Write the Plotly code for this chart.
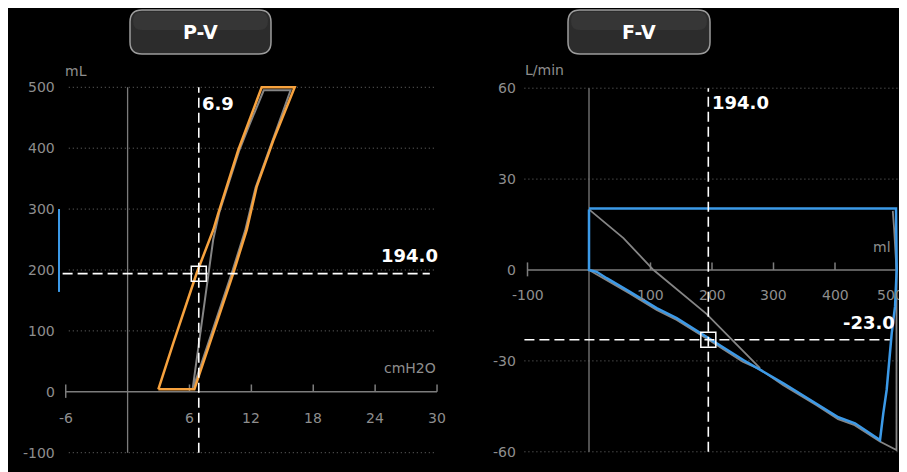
import plotly.graph_objects as go

# page is 907x472; the page body has an 8px margin, so the figure is 899x464
W, H = 899, 464
OFF = 8

# ---------------- data ----------------
# P-V loop (pressure cmH2O, volume mL)
pv_pressure = [2.98, 4.43, 6.7, 8.31, 8.79, 10.73, 11.7, 13.0, 16.2, 14.13, 12.52, 11.55, 10.25, 6.47, 2.98]
pv_volume = [4, 80, 195, 266, 293, 397, 441, 500, 500, 413, 337, 266, 195, 4, 4]
pv_ref_pressure = [6.3, 7.2, 8.3, 8.9, 10.8, 11.8, 13.2, 15.8, 14.0, 12.4, 11.4, 10.1, 6.4]
pv_ref_volume = [4, 118, 250, 295, 395, 438, 495, 495, 410, 335, 265, 195, 8]
pv_bar_volume = [300, 164]
pv_cursor_pressure = 6.9
pv_cursor_volume = 194.0

# F-V loop (volume mL, flow L/min)
fv_volume = [0, 0, 12.5, 28.8, 66.7, 110, 142.6, 191.4, 250.9, 316, 370, 405.4, 432.5, 473.2,
             478.5, 484, 492.2, 497.6, 500.3, 499.2, 0]
fv_flow = [20, 0, -0.6, -2.7, -7.2, -12.6, -15.9, -22, -29.7, -37.4, -44, -48.6, -50.6, -56.1,
           -47.3, -39.6, -20.9, -12.1, 0, 20.3, 20.3]
fv_ref_volume = [0, 56, 105, 191, 278, None,
                 0, 28.8, 66.7, 110, 142.6, 191, 250, 278, 316, 370, 405, 432, 473, 500, 500, 496, 494]
fv_ref_flow = [20, 10.5, 0, -14.5, -32.4, None,
               0, -3.3, -7.8, -13.2, -16.5, -22.6, -30.3, -32.8, -38, -44.6, -49.2, -51.2, -56.6, -59.4, 0, 14, 19.5]
fv_cursor_volume = 194.0
fv_cursor_flow = -23.0

# ticks
pv_xticks = [-6, 6, 12, 18, 24, 30]
pv_xticklabels = ["-6", "6", "12", "18", "24", "30"]
pv_yticks = [500, 400, 300, 200, 100, 0, -100]
pv_yticklabels = ["500", "400", "300", "200", "100", "0", "-100"]
pv_grid = [500, 400, 300, 200, 100, -100]

fv_xticks = [-100, 100, 200, 300, 400, 500]
fv_xticklabels = ["-100", "100", "200", "300", "400", "500"]
fv_yticks = [60, 30, 0, -30, -60]
fv_yticklabels = ["60", "30", "0", "-30", "-60"]
fv_grid = [60, 30, -30, -60]

# ---------------- styles ----------------
GRID = "#6e6e6e"
AXIS = "#7c7c7c"
TICKTXT = "#8e8e8e"
ORANGE = "#f7a23e"
BLUE = "#3c9ae8"
REFGREY = "#858585"
FONT = "DejaVu Sans"

fig = go.Figure()


def seg_trace(xs, ys, color, width, dash="solid", xa="x", ya="y"):
    fig.add_trace(go.Scatter(x=xs, y=ys, mode="lines", xaxis=xa, yaxis=ya,
                             line=dict(color=color, width=width, dash=dash),
                             hoverinfo="skip", showlegend=False))


def hlines(ys, x0, x1):
    xs, yy = [], []
    for v in ys:
        xs += [x0, x1, None]
        yy += [v, v, None]
    return xs, yy


# ---------- left panel (P-V) ----------
gx, gy = hlines(pv_grid, -5.7, 29.8)
seg_trace(gx, gy, GRID, 1, "1px,3px")
seg_trace([-6, 30], [0, 0], AXIS, 1.5)
seg_trace([0, 0], [-100, 500], AXIS, 1.3)
tx, ty = [], []
for i, v in enumerate(pv_xticks):
    lo = -10 if i == 0 else 0
    tx += [v, v, None]
    ty += [lo, 12, None]
seg_trace(tx, ty, AXIS, 1.5)
seg_trace([-6.65, -6.65], pv_bar_volume, BLUE, 2)
seg_trace(pv_ref_pressure, pv_ref_volume, REFGREY, 2)
seg_trace(pv_pressure, pv_volume, ORANGE, 2.5)
seg_trace([pv_cursor_pressure, pv_cursor_pressure], [-100, 500], "white", 1.6, "10px,5px")
seg_trace([-6.3, 29.3], [pv_cursor_volume, pv_cursor_volume], "white", 1.6, "10px,5px")
fig.add_trace(go.Scatter(x=[pv_cursor_pressure], y=[pv_cursor_volume], mode="markers",
                         marker=dict(symbol="square-open", size=15, color="white",
                                     line=dict(width=1.5, color="white")),
                         hoverinfo="skip", showlegend=False, xaxis="x", yaxis="y"))

# ---------- right panel (F-V) ----------
gx, gy = hlines(fv_grid, -105, 505)
seg_trace(gx, gy, GRID, 1, "1px,3px", "x2", "y2")
seg_trace([-100, 500], [0, 0], AXIS, 1.5, "solid", "x2", "y2")
seg_trace([0, 0], [-60, 60], AXIS, 1.3, "solid", "x2", "y2")
tx, ty = [], []
for i, v in enumerate(fv_xticks):
    lo = -2.1 if i == 0 else 0
    tx += [v, v, None]
    ty += [lo, 2.5, None]
seg_trace(tx, ty, AXIS, 1.5, "solid", "x2", "y2")
seg_trace(fv_ref_volume, fv_ref_flow, REFGREY, 1.8, "solid", "x2", "y2")
seg_trace(fv_volume, fv_flow, BLUE, 2.5, "solid", "x2", "y2")
seg_trace([fv_cursor_volume, fv_cursor_volume], [-60, 60], "white", 1.6, "10px,5px", "x2", "y2")
seg_trace([-105, 489], [fv_cursor_flow, fv_cursor_flow], "white", 1.6, "10px,5px", "x2", "y2")
fig.add_trace(go.Scatter(x=[fv_cursor_volume], y=[fv_cursor_flow], mode="markers",
                         marker=dict(symbol="square-open", size=15, color="white",
                                     line=dict(width=1.5, color="white")),
                         hoverinfo="skip", showlegend=False, xaxis="x2", yaxis="y2"))

# ---------- annotations ----------
ann = []


def label(text, x, y, xref, yref, xanchor="center", size=14, color=TICKTXT, bold=False):
    ann.append(dict(text=("<b>%s</b>" % text) if bold else text, x=x, y=y, xref=xref, yref=yref,
                    xanchor=xanchor, yanchor="middle", showarrow=False,
                    font=dict(family=FONT, size=size, color=color)))


for v, t in zip(pv_yticks, pv_yticklabels):
    label(t, -6.85, v, "x", "y", "right")
for v, t in zip(pv_xticks, pv_xticklabels):
    label(t, v, -43, "x", "y")
for v, t in zip(fv_yticks, fv_yticklabels):
    label(t, -115.4, v, "x2", "y2", "right")
for v, t in zip(fv_xticks, fv_xticklabels):
    label(t, min(v, 490), -8.25, "x2", "y2")

label("mL", -5.0, 527, "x", "y")
label("cmH2O", 30.1, 39, "x", "y", "right")
label("L/min", -73, 66, "x2", "y2")
label("ml", 494, 7.6, "x2", "y2", "right")

label("%.1f" % pv_cursor_pressure, 7.0, 474, "x", "y", "left", 18, "white", True)
label("%.1f" % pv_cursor_volume, 30.3, 224, "x", "y", "right", 18, "white", True)
label("%.1f" % fv_cursor_volume, 197, 55.4, "x2", "y2", "left", 18, "white", True)
label("%.1f" % fv_cursor_flow, 500.5, -17.2, "x2", "y2", "right", 18, "white", True)


# ---------- buttons ----------
def px(x):
    return (x - OFF) / W


def py(y):
    return 1 - (y - OFF) / H


def rrect(x0, y0, x1, y1, r):
    return ("M %f,%f L %f,%f Q %f,%f %f,%f L %f,%f Q %f,%f %f,%f L %f,%f Q %f,%f %f,%f "
            "L %f,%f Q %f,%f %f,%f Z") % (
        px(x0 + r), py(y0), px(x1 - r), py(y0), px(x1), py(y0), px(x1), py(y0 + r),
        px(x1), py(y1 - r), px(x1), py(y1), px(x1 - r), py(y1),
        px(x0 + r), py(y1), px(x0), py(y1), px(x0), py(y1 - r),
        px(x0), py(y0 + r), px(x0), py(y0), px(x0 + r), py(y0))


shapes = []
for (bx0, bx1, txt) in [(130, 271, "P-V"), (568, 710, "F-V")]:
    shapes.append(dict(type="path", xref="paper", yref="paper", path=rrect(bx0, 10, bx1, 54, 12),
                       fillcolor="#2c2c2c", line=dict(color="#9c9c9c", width=1.5), layer="below"))
    shapes.append(dict(type="path", xref="paper", yref="paper", path=rrect(bx0 + 3, 12, bx1 - 3, 30, 9),
                       fillcolor="#363636", line=dict(width=0), layer="below"))
    ann.append(dict(text="<b>%s</b>" % txt, x=px((bx0 + bx1) / 2), y=py(32), xref="paper", yref="paper",
                    xanchor="center", yanchor="middle", showarrow=False,
                    font=dict(family=FONT, size=19, color="white")))

# axis ranges follow from the page-pixel layout of the reference
fig.update_layout(
    width=W, height=H, margin=dict(l=0, r=0, t=0, b=0),
    paper_bgcolor="black", plot_bgcolor="rgba(0,0,0,0)",
    showlegend=False, shapes=shapes, annotations=ann,
    xaxis=dict(domain=[0, 0.5], range=[-11.596, 31.985], visible=False, fixedrange=True),
    yaxis=dict(domain=[0, 1], range=[-131.7, 630.2], visible=False, fixedrange=True),
    xaxis2=dict(domain=[0.5, 1], range=[-213.82, 517.07], visible=False, anchor="y2", fixedrange=True),
    yaxis2=dict(domain=[0, 1], range=[-66.67, 86.47], visible=False, anchor="x2", fixedrange=True),
)

fig.write_html("out.html", config={"displayModeBar": False})
